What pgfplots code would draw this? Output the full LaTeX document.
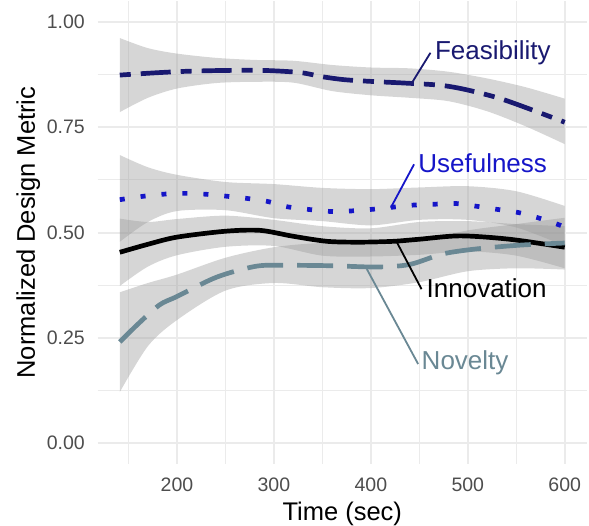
\documentclass[border=0pt]{standalone}
\usepackage{fontspec}
\setmainfont{Liberation Sans}
\usepackage{pgfplots}
\pgfplotsset{compat=1.18}
\usepgfplotslibrary{fillbetween}
\definecolor{feas}{HTML}{191970}
\definecolor{usef}{HTML}{1515C8}
\definecolor{novc}{HTML}{6A8894}
\definecolor{gridc}{HTML}{EBEBEB}
\definecolor{tickc}{HTML}{4D4D4D}
\definecolor{ribc}{HTML}{999999}
\begin{document}
\begin{tikzpicture}
\begin{axis}[
  at={(0pt,0pt)}, anchor=south west,
  scale only axis, width=489.5pt, height=463pt,
  xmin=118, xmax=623, ymin=-0.05, ymax=1.05,
  axis line style={draw=none},
  major tick length=0pt, minor tick length=0pt,
  tick style={draw=none},
  xtick={200,300,400,500,600}, xticklabels={200,300,400,500,600},
  ytick={0,0.25,0.5,0.75,1}, yticklabels={0.00,0.25,0.50,0.75,1.00},
  minor xtick={150,250,350,450,550},
  minor ytick={0.125,0.375,0.625,0.875},
  grid=both,
  major grid style={draw=gridc, line width=2pt},
  minor grid style={draw=gridc, line width=1.2pt},
  xticklabel style={font=\fontsize{19.5}{22}\selectfont, text=tickc, inner sep=0pt, anchor=north, yshift=-14pt},
  yticklabel style={font=\fontsize{19.5}{22}\selectfont, text=tickc, inner sep=0pt, anchor=east, xshift=-12.5pt},
  xlabel={Time (sec)}, ylabel={Normalized Design Metric},
  every axis x label/.style={at={(axis description cs:0.5,0)}, anchor=base, yshift=-56pt, font=\fontsize{25.5}{28}\selectfont, inner sep=0pt},
  every axis y label/.style={at={([xshift=-62.5pt]axis description cs:0,0.5)}, rotate=90, anchor=base, font=\fontsize{25.5}{28}\selectfont, inner sep=0pt},
]
% ---------- ribbons ----------
% Feasibility
\addplot[name path=fU, draw=none, smooth] coordinates {(141,0.962) (170,0.938) (200,0.925) (240,0.915) (280,0.910) (320,0.908) (360,0.898) (400,0.892) (440,0.890) (480,0.882) (520,0.866) (560,0.845) (600,0.818)};
\addplot[name path=fL, draw=none, smooth] coordinates {(141,0.786) (170,0.820) (200,0.842) (240,0.855) (280,0.858) (320,0.856) (360,0.836) (400,0.826) (440,0.820) (480,0.812) (520,0.788) (560,0.752) (600,0.710)};
\addplot[fill=ribc, fill opacity=0.4, draw=none] fill between[of=fU and fL];
% Usefulness
\addplot[name path=uU, draw=none, smooth] coordinates {(141,0.684) (170,0.655) (200,0.637) (250,0.620) (300,0.615) (350,0.606) (400,0.603) (450,0.607) (500,0.610) (550,0.598) (600,0.563)};
\addplot[name path=uL, draw=none, smooth] coordinates {(141,0.478) (170,0.525) (200,0.551) (250,0.553) (300,0.534) (350,0.527) (400,0.517) (450,0.530) (500,0.530) (550,0.512) (600,0.468)};
\addplot[fill=ribc, fill opacity=0.4, draw=none] fill between[of=uU and uL];
% Innovation
\addplot[name path=iU, draw=none, smooth] coordinates {(141,0.533) (170,0.525) (200,0.532) (250,0.540) (300,0.530) (350,0.515) (400,0.510) (450,0.525) (500,0.527) (550,0.520) (600,0.515)};
\addplot[name path=iL, draw=none, smooth] coordinates {(141,0.373) (170,0.419) (200,0.446) (250,0.466) (300,0.468) (350,0.445) (400,0.443) (450,0.447) (500,0.455) (550,0.445) (600,0.415)};
\addplot[fill=ribc, fill opacity=0.4, draw=none] fill between[of=iU and iL];
% Novelty
\addplot[name path=nU, draw=none, smooth] coordinates {(141,0.358) (170,0.380) (200,0.400) (250,0.440) (300,0.465) (350,0.475) (400,0.470) (450,0.480) (500,0.505) (550,0.520) (600,0.535)};
\addplot[name path=nL, draw=none, smooth] coordinates {(141,0.121) (170,0.230) (200,0.292) (250,0.362) (300,0.380) (350,0.370) (400,0.368) (450,0.382) (500,0.408) (550,0.415) (600,0.412)};
\addplot[fill=ribc, fill opacity=0.4, draw=none] fill between[of=nU and nL];
% ---------- lines ----------
\addplot[feas, line width=4.7pt, smooth, line cap=butt, dash pattern=on 11pt off 10pt on 30pt off 10pt] coordinates {(141,0.874) (175,0.879) (210,0.883) (250,0.885) (290,0.885) (327,0.880) (350,0.870) (373,0.863) (400,0.859) (435,0.855) (471,0.850) (497,0.840) (531,0.820) (562,0.795) (600,0.762)};
\addplot[usef, line width=4.7pt, smooth, line cap=butt, dash pattern=on 5pt off 16pt] coordinates {(141,0.578) (165,0.586) (186,0.591) (208,0.593) (229,0.591) (252,0.586) (272,0.581) (293,0.574) (314,0.561) (335,0.555) (358,0.550) (378,0.551) (401,0.555) (422,0.560) (443,0.565) (464,0.567) (487,0.569) (507,0.563) (530,0.555) (551,0.548) (571,0.536) (592,0.520) (600,0.513)};
\addplot[black, line width=4.7pt, smooth] coordinates {(141,0.453) (170,0.472) (200,0.489) (250,0.503) (286,0.505) (320,0.491) (355,0.479) (389,0.477) (423,0.479) (450,0.484) (492,0.492) (543,0.484) (600,0.465)};
\addplot[novc, line width=4.7pt, smooth, line cap=butt, dash pattern=on 36pt off 14pt] coordinates {(141,0.240) (160,0.283) (182,0.328) (200,0.348) (241,0.394) (282,0.420) (316,0.422) (360,0.421) (406,0.418) (440,0.424) (474,0.449) (509,0.461) (554,0.470) (600,0.475)};
% ---------- annotations ----------
\draw[feas, line width=1.8pt] (axis cs:443.3,0.859) -- (axis cs:461.5,0.927);
\node[anchor=base west, inner sep=0pt, text=feas, font=\fontsize{26}{28}\selectfont] at (axis cs:466,0.910) {Feasibility};
\draw[usef, line width=1.8pt] (axis cs:420.6,0.559) -- (axis cs:444.6,0.662);
\node[anchor=base west, inner sep=0pt, text=usef, font=\fontsize{26}{28}\selectfont] at (axis cs:448.8,0.6425) {Usefulness};
\draw[black, line width=1.8pt] (axis cs:426.8,0.477) -- (axis cs:452.3,0.3655);
\node[anchor=base west, inner sep=0pt, text=black, font=\fontsize{26}{28}\selectfont] at (axis cs:457.4,0.346) {Innovation};
\draw[novc, line width=1.8pt] (axis cs:395.9,0.413) -- (axis cs:448.8,0.1875);
\node[anchor=base west, inner sep=0pt, text=novc, font=\fontsize{26}{28}\selectfont] at (axis cs:452.3,0.1756) {Novelty};
\end{axis}
\path (-97.5pt,-61pt) rectangle (491.5pt,464pt);
\end{tikzpicture}
\end{document}
